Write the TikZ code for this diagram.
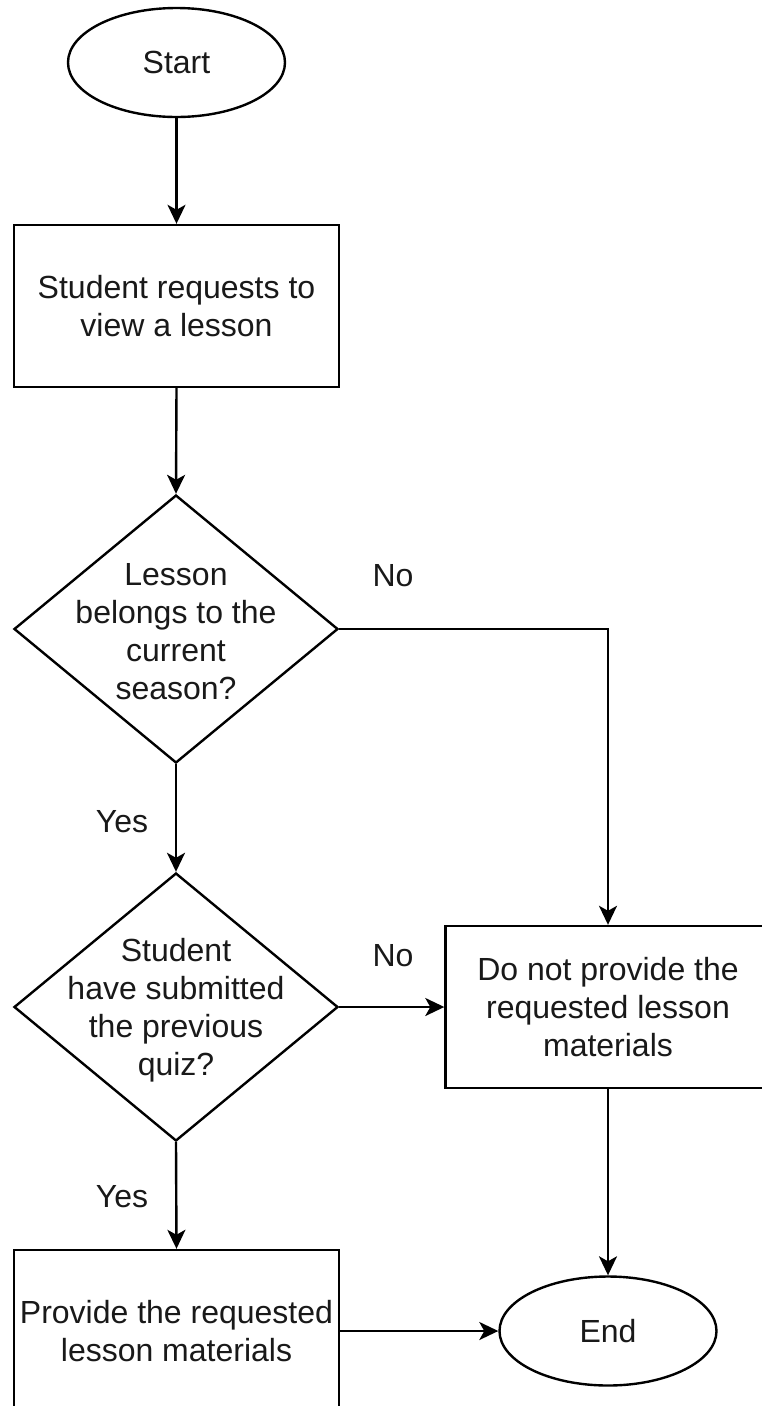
\documentclass[tikz,border=0pt]{standalone}
\usepackage{fontspec}
\setmainfont{Liberation Sans}
\usetikzlibrary{shapes.geometric,arrows.meta}
\begin{document}
\begin{tikzpicture}[x=1pt,y=-1pt,
  every node/.style={font=\fontsize{32}{38}\selectfont, text=black!90},
  box/.style={draw, line width=2.4pt, minimum width=325pt, minimum height=162pt, inner sep=0pt, align=center},
  term/.style={draw, ellipse, line width=2.4pt, minimum width=217pt, minimum height=109pt, inner sep=0pt},
  dec/.style={draw, diamond, line width=2.4pt, minimum width=324pt, minimum height=268pt, inner sep=0pt},
  txt/.style={align=center, inner sep=0pt},
  lbl/.style={inner sep=0pt},
  arr/.style={line width=2.4pt, -{Stealth[length=19pt,width=18pt,inset=5pt]}},
  ln/.style={line width=2.4pt}]
\useasboundingbox (0,0) rectangle (761,1406);
\fill[white] (0,0) rectangle (761,1406);

\node[term] (start) at (176.5,62.5) {Start};
\node[box] (r1) at (176.5,306) {Student requests to\\view a lesson};
\node[dec] (d1) at (176,629) {};
\node[txt] (t1) at (176,632) {Lesson\\belongs to the\\current\\season?};
\node[dec] (d2) at (176,1007) {};
\node[txt] (t2) at (176,1010) {Student\\have submitted\\the previous\\quiz?};
\node[box] (r2) at (608,1007) {Do not provide the\\requested lesson\\materials};
\node[box] (r3) at (176.5,1331) {Provide the requested\\lesson materials};
\node[term] (end) at (608,1331) {End};

\node[lbl] (no1) at (393,576) {No};
\node[lbl] (no2) at (393,956) {No};
\node[lbl] (yes1) at (122,822) {Yes};
\node[lbl] (yes2) at (122,1197) {Yes};

\draw[arr] (start.south) -- (r1.north);
\draw[arr] (r1.south) -- (d1.north);
\draw[arr] (d1.south) -- (d2.north);
\draw[arr] (d1.east) -| (r2.north);
\draw[arr] (d2.east) -- (r2.west);
\draw[arr] (d2.south) -- (r3.north);
\draw[arr] (r2.south) -- (end.north);
\draw[arr] (r3.east) -- (end.west);
\end{tikzpicture}
\end{document}
